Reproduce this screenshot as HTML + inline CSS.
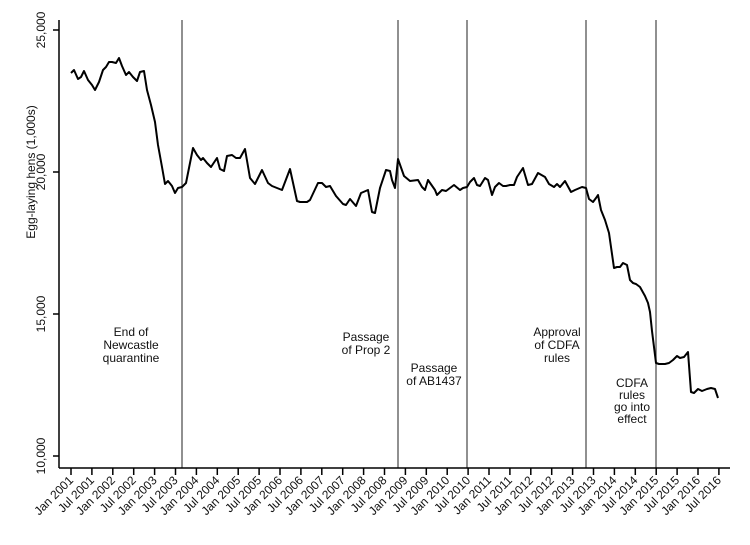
<!DOCTYPE html>
<html><head><meta charset="utf-8"><style>
html,body{margin:0;padding:0;background:#fff}
svg{display:block}
text{font-family:"Liberation Sans",Arial,sans-serif;font-size:12px;fill:#111}
</style></head><body>
<svg width="750" height="545" viewBox="0 0 750 545" xmlns="http://www.w3.org/2000/svg">
<g stroke="#555" stroke-width="1.3">
<line x1="182" y1="20" x2="182" y2="468"/>
<line x1="398" y1="20" x2="398" y2="468"/>
<line x1="467" y1="20" x2="467" y2="468"/>
<line x1="586" y1="20" x2="586" y2="468"/>
<line x1="656" y1="20" x2="656" y2="468"/>
</g>
<g stroke="#000" stroke-width="1.5" fill="none">
<line x1="59" y1="20" x2="59" y2="468"/>
<line x1="59" y1="468" x2="730" y2="468"/>
<line x1="53" y1="30" x2="59" y2="30"/>
<line x1="53" y1="172" x2="59" y2="172"/>
<line x1="53" y1="314" x2="59" y2="314"/>
<line x1="53" y1="456" x2="59" y2="456"/>
</g>
<g id="ticks" stroke="#000" stroke-width="1.5"></g>
<g id="tl"></g>
<g font-size="13">
<text transform="translate(45,30) rotate(-90)" text-anchor="middle">25,000</text>
<text transform="translate(45,172) rotate(-90)" text-anchor="middle">20,000</text>
<text transform="translate(45,314) rotate(-90)" text-anchor="middle">15,000</text>
<text transform="translate(45,456) rotate(-90)" text-anchor="middle">10,000</text>
<text transform="translate(35,172) rotate(-90)" text-anchor="middle">Egg-laying hens (1,000s)</text>
</g>
<polyline fill="none" stroke="#000" stroke-width="2" stroke-linejoin="round" points="71,73 74,70 78,79 81,77 84,71 88,80 92,85 95,90 99,82 103,70 106,67 109,62 112,62 116,63 119,58 122,66 126,75 129,72 133,77 137,81 140,72 144,71 147,90 151,105 155,122 158,145 162,167 165,184 168,181 172,186 175,193 178,188 182,187 186,183 193,148 197,155 201,160 203,158 207,163 211,167 217,158 220,169 224,171 227,156 232,155 236,158 240,158 245,149 250,178 255,184 262,170 268,183 272,186 282,190 290,169 297,201 300,202 307,202 310,200 318,183 322,183 326,187 330,186 336,196 343,204 346,205 350,199 356,206 361,193 368,190 372,212 375,213 380,188 386,170 390,171 392,180 395,188 398,159 404,176 410,181 418,180 422,187 425,190 428,180 435,190 437,195 442,190 446,191 450,188 454,185 460,190 463,188 467,187 470,182 474,178 477,185 480,186 485,178 488,180 492,195 495,187 499,183 503,186 506,186 510,185 514,185 517,177 523,168 528,185 532,184 538,173 545,177 549,184 554,187 557,184 560,187 565,181 571,192 575,190 582,187 586,188 589,199 593,202 596,198 598,195 601,210 605,220 609,233 611,247 614,268 617,267 620,267 623,263 627,265 630,280 633,283 636,284 640,287 645,296 648,303 650,312 652,331 654,347 656,363 659,364 665,364 669,363 673,360 677,356 680,358 684,357 688,352 691,392 694,393 698,389 702,391 707,389 711,388 715,389 718,398"/>
<g text-anchor="middle">
<text x="131" y="336">End of</text><text x="131" y="349">Newcastle</text><text x="131" y="362">quarantine</text>
<text x="366" y="341">Passage</text><text x="366" y="354">of Prop 2</text>
<text x="434" y="372">Passage</text><text x="434" y="385">of AB1437</text>
<text x="557" y="336">Approval</text><text x="557" y="349">of CDFA</text><text x="557" y="362">rules</text>
<text x="632" y="387">CDFA</text><text x="632" y="399">rules</text><text x="632" y="411">go into</text><text x="632" y="423">effect</text>
</g>
<script>
var t=document.getElementById('ticks'),l=document.getElementById('tl'),ns='http://www.w3.org/2000/svg';
for(var i=0;i<32;i++){var x=71+i*20.9;var ln=document.createElementNS(ns,'line');ln.setAttribute('x1',x);ln.setAttribute('x2',x);ln.setAttribute('y1',468);ln.setAttribute('y2',475);t.appendChild(ln);
var tx=document.createElementNS(ns,'text');tx.setAttribute('text-anchor','end');tx.setAttribute('transform','translate('+(x+3)+',481) rotate(-45)');tx.textContent=(i%2?'Jul ':'Jan ')+(2001+Math.floor(i/2));l.appendChild(tx);}
</script>
</svg>
</body></html>
